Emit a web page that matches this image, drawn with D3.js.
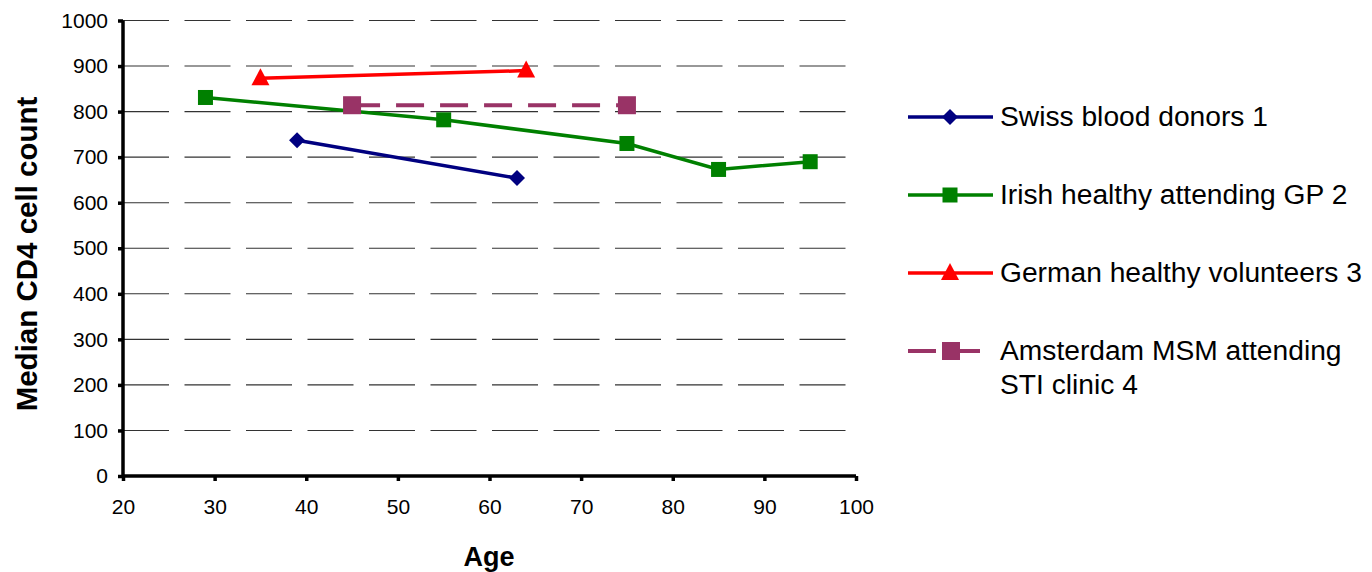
<!DOCTYPE html>
<html>
<head>
<meta charset="utf-8">
<script src="https://cdn.jsdelivr.net/npm/d3@7"></script>
<style>
  body { margin: 0; background: #fff; }
  svg { display: block; font-family: Arial, "Liberation Sans", sans-serif; }
</style>
</head>
<body>
<svg id="chart"></svg>
<script>
// Chart size
const width = 1372;
const height = 572;

// Data
const xTicks = [20, 30, 40, 50, 60, 70, 80, 90, 100];
const yTicks = [0, 100, 200, 300, 400, 500, 600, 700, 800, 900, 1000];

const swissAge = [39, 63];
const swissCD4 = [737, 654];

const irishAge = [29, 55, 75, 85, 95];
const irishCD4 = [831, 782, 730, 673, 690];

const germanAge = [35, 64];
const germanCD4 = [873, 890];

const amsterdamAge = [45, 75];
const amsterdamCD4 = [814, 814];

const seriesNames = [
  ["Swiss blood donors 1"],
  ["Irish healthy attending GP 2"],
  ["German healthy volunteers 3"],
  ["Amsterdam MSM attending", "STI clinic 4"]
];

const series = [
  { name: seriesNames[0], x: swissAge, y: swissCD4, color: "#000080", marker: "diamond", dash: null },
  { name: seriesNames[1], x: irishAge, y: irishCD4, color: "#008000", marker: "square", dash: null },
  { name: seriesNames[2], x: germanAge, y: germanCD4, color: "#ff0000", marker: "triangle", dash: null },
  { name: seriesNames[3], x: amsterdamAge, y: amsterdamCD4, color: "#993366", marker: "bigsquare", dash: "28,16" }
];

const svg = d3.select("#chart")
    .attr("width", width)
    .attr("height", height);

// Scales
const xScale = d3.scaleLinear().domain([20, 100]).range([123, 856]);
const yScale = d3.scaleLinear().domain([0, 1000]).range([476, 20.5]);

// Gridlines (dashed)
svg.append("g")
  .selectAll("line")
  .data(yTicks.filter(d => d > 0))
  .enter()
  .append("line")
    .attr("x1", xScale(20))
    .attr("x2", xScale(100))
    .attr("y1", d => yScale(d))
    .attr("y2", d => yScale(d))
    .attr("stroke", "#333")
    .attr("stroke-width", 1.1)
    .attr("stroke-dasharray", "46,15.5");

// Axes
const xAxis = d3.axisBottom(xScale).tickValues(xTicks).tickSize(5).tickPadding(10).tickFormat(d3.format("d"));
const yAxis = d3.axisLeft(yScale).tickValues(yTicks).tickSize(5).tickPadding(10).tickFormat(d3.format("d"));

const gx = svg.append("g")
    .attr("transform", `translate(0, ${yScale(0)})`)
    .call(xAxis);
const gy = svg.append("g")
    .attr("transform", `translate(${xScale(20)}, 0)`)
    .call(yAxis);

[gx, gy].forEach(g => {
  g.select(".domain").attr("stroke", "#000").attr("stroke-width", 3.5);
  g.selectAll(".tick line").attr("stroke", "#000").attr("stroke-width", 3.5);
  g.selectAll(".tick text")
    .attr("fill", "#000")
    .style("font-size", "21px")
    .style("font-family", "Arial, 'Liberation Sans', sans-serif");
});
// remove outer tick caps from domain path
gx.select(".domain").attr("d", `M${xScale(20)},0H${xScale(100)}`);
gy.select(".domain").attr("d", `M0,${yScale(0)}V${yScale(1000)}`);
gx.selectAll(".tick text").attr("dy", "0.71em").attr("y", 23);
gy.selectAll(".tick text").attr("x", -15);

// Axis titles
svg.append("text")
    .attr("x", 489)
    .attr("y", 566)
    .attr("text-anchor", "middle")
    .style("font-size", "27px")
    .style("font-weight", "bold")
    .text("Age");

svg.append("text")
    .attr("transform", "translate(37, 254) rotate(-90)")
    .attr("text-anchor", "middle")
    .style("font-size", "29.5px")
    .style("font-weight", "bold")
    .text("Median CD4 cell count");

// Marker drawing
function drawMarker(g, type, color, cx, cy) {
  if (type === "diamond") {
    g.append("path")
      .attr("d", `M${cx},${cy - 8}L${cx + 8},${cy}L${cx},${cy + 8}L${cx - 8},${cy}Z`)
      .attr("fill", color);
  } else if (type === "square") {
    g.append("rect")
      .attr("x", cx - 7.5).attr("y", cy - 7.5)
      .attr("width", 15).attr("height", 15)
      .attr("fill", color);
  } else if (type === "bigsquare") {
    g.append("rect")
      .attr("x", cx - 9).attr("y", cy - 9)
      .attr("width", 18).attr("height", 18)
      .attr("fill", color);
  } else if (type === "triangle") {
    g.append("path")
      .attr("d", `M${cx},${cy - 10}L${cx + 9},${cy + 7}L${cx - 9},${cy + 7}Z`)
      .attr("fill", color);
  }
}

// Lines and markers
const line = d3.line().x(d => xScale(d[0])).y(d => yScale(d[1]));

series.forEach(s => {
  const pts = s.x.map((x, i) => [x, s.y[i]]);
  const g = svg.append("g");
  g.append("path")
    .datum(pts)
    .attr("d", line)
    .attr("fill", "none")
    .attr("stroke", s.color)
    .attr("stroke-width", s.dash ? 4 : 3.5)
    .attr("stroke-dasharray", s.dash);
  pts.forEach(p => drawMarker(g, s.marker, s.color, xScale(p[0]), yScale(p[1])));
});

// Legend
const legendY = [117, 195, 273, 351];
series.forEach((s, i) => {
  const g = svg.append("g");
  const y = legendY[i];
  g.append("line")
    .attr("x1", 908).attr("x2", s.dash ? 981 : 993)
    .attr("y1", y).attr("y2", y)
    .attr("stroke", s.color)
    .attr("stroke-width", s.dash ? 4 : 3.5)
    .attr("stroke-dasharray", s.dash);
  drawMarker(g, s.marker, s.color, s.dash ? 951 : 950, y);
  const t = g.append("text")
    .attr("x", 1000)
    .attr("y", y + 9)
    .style("font-size", "28.2px");
  s.name.forEach((ln, j) => {
    t.append("tspan").attr("x", 1000).attr("dy", j === 0 ? 0 : 34).text(ln);
  });
});
</script>
</body>
</html>
